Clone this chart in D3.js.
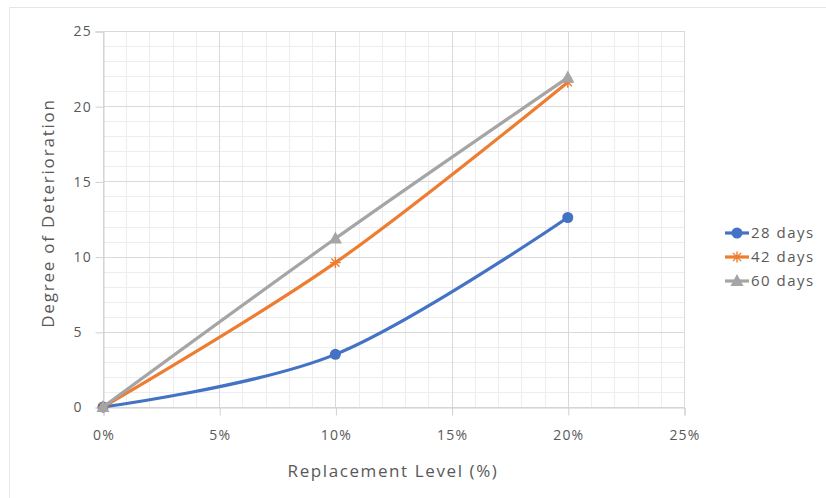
<!DOCTYPE html>
<html>
<head>
<meta charset="utf-8">
<script src="https://cdn.jsdelivr.net/npm/d3@7/dist/d3.min.js"></script>
<style>
  html, body { margin: 0; padding: 0; background: #fff; }
  svg { display: block; font-family: "Open Sans", "Noto Sans", sans-serif; }
</style>
</head>
<body>
<svg id="chart" width="826" height="498"></svg>
<script>
// Replacement level (%) on the x axis
const levels = [0, 10, 20];
// Degree of deterioration per curing age
const days28 = [0, 3.5, 12.6];
const days42 = [0, 9.6, 21.6];
const days60 = [0, 11.2, 21.9];
const seriesNames = ["28 days", "42 days", "60 days"];
const seriesColors = ["#4472C4", "#ED7D31", "#A5A5A5"];
const seriesMarkers = ["circle", "asterisk", "triangle"];
const xTicks = [0, 5, 10, 15, 20, 25];
const yTicks = [0, 5, 10, 15, 20, 25];

const series = [days28, days42, days60].map((vals, i) => ({
  name: seriesNames[i], color: seriesColors[i], marker: seriesMarkers[i],
  points: levels.map((x, j) => ({ x, y: vals[j] }))
}));

const svg = d3.select("#chart");
const textColor = "#595959";

// outer chart frame
svg.append("path")
  .attr("d", "M9.5,498 V7.5 H826")
  .attr("fill", "none").attr("stroke", "#e6e6e6").attr("stroke-width", 1);

const x = d3.scaleLinear().domain([0, 25]).range([103, 684]);
const y = d3.scaleLinear().domain([0, 25]).range([407, 31]);

// minor grid (every 1 unit)
const g = svg.append("g");
const minor = d3.range(0, 26, 1).filter(v => v % 5 !== 0);
g.selectAll("line.minx").data(minor).join("line")
  .attr("x1", d => Math.round(x(d)) + 0.5).attr("x2", d => Math.round(x(d)) + 0.5)
  .attr("y1", y(25)).attr("y2", y(0)).attr("stroke", "#ededed");
g.selectAll("line.miny").data(minor).join("line")
  .attr("y1", d => Math.round(y(d)) + 0.5).attr("y2", d => Math.round(y(d)) + 0.5)
  .attr("x1", x(0)).attr("x2", x(25)).attr("stroke", "#ededed");
// major grid
g.selectAll("line.majx").data(xTicks).join("line")
  .attr("x1", d => Math.round(x(d)) + 0.5).attr("x2", d => Math.round(x(d)) + 0.5)
  .attr("y1", y(25)).attr("y2", y(0)).attr("stroke", "#d9d9d9");
g.selectAll("line.majy").data(yTicks).join("line")
  .attr("y1", d => Math.round(y(d)) + 0.5).attr("y2", d => Math.round(y(d)) + 0.5)
  .attr("x1", x(0)).attr("x2", x(25)).attr("stroke", "#d9d9d9");

// axes
const xAxis = svg.append("g").attr("transform", `translate(0.5,${Math.round(y(0)) + 0.5})`)
  .call(d3.axisBottom(x).tickValues(xTicks).tickFormat(d => d + "%").tickSize(8).tickPadding(15));
const yAxis = svg.append("g").attr("transform", `translate(${Math.round(x(0)) + 0.5},0.5)`)
  .call(d3.axisLeft(y).tickValues(yTicks).tickSize(8));
[xAxis, yAxis].forEach(a => {
  a.select(".domain").attr("stroke", "#d0d0d0");
  a.selectAll(".tick line").attr("stroke", "#d0d0d0");
  a.selectAll(".tick text").attr("fill", textColor).attr("font-size", 14)
    .attr("letter-spacing", 1.2)
    .attr("font-family", "'Open Sans', 'Noto Sans', sans-serif");
});
// y labels sit in a column starting left of the tick marks
yAxis.selectAll(".tick text").attr("text-anchor", "start").attr("x", -30);

// axis titles
svg.append("text").attr("x", 393).attr("y", 477).attr("text-anchor", "middle")
  .attr("fill", textColor).attr("font-size", 17).attr("letter-spacing", 1.6)
  .text("Replacement Level (%)");
svg.append("text").attr("transform", "translate(54,213) rotate(-90)").attr("text-anchor", "middle")
  .attr("fill", textColor).attr("font-size", 17).attr("letter-spacing", 1.8)
  .text("Degree of Deterioration");

// marker drawing helper
function drawMarker(sel, type, color) {
  if (type === "circle") {
    sel.append("circle").attr("r", 5.5).attr("fill", color);
  } else if (type === "triangle") {
    sel.append("path").attr("d", "M0,-7 L6.5,5 L-6.5,5 Z").attr("fill", color);
  } else {
    const r = 5.5;
    sel.append("path")
      .attr("d", `M${-r},0 H${r} M0,${-r} V${r} M${-r*0.75},${-r*0.75} L${r*0.75},${r*0.75} M${-r*0.75},${r*0.75} L${r*0.75},${-r*0.75}`)
      .attr("stroke", color).attr("stroke-width", 1.4).attr("fill", "none");
  }
}

const line = d3.line().x(d => x(d.x)).y(d => y(d.y)).curve(d3.curveCardinal.tension(0));

series.forEach(s => {
  svg.append("path").datum(s.points).attr("d", line)
    .attr("fill", "none").attr("stroke", s.color).attr("stroke-width", 3.2)
    .attr("stroke-linejoin", "round").attr("stroke-linecap", "round");
  s.points.forEach(p => {
    const m = svg.append("g").attr("transform", `translate(${x(p.x)},${y(p.y)})`);
    drawMarker(m, s.marker, s.color);
  });
});

// legend
const legend = svg.append("g");
series.forEach((s, i) => {
  const ly = 233 + i * 24;
  legend.append("line").attr("x1", 725).attr("x2", 749).attr("y1", ly).attr("y2", ly)
    .attr("stroke", s.color).attr("stroke-width", 3.2);
  drawMarker(legend.append("g").attr("transform", `translate(737,${ly})`), s.marker, s.color);
  legend.append("text").attr("x", 751).attr("y", ly).attr("dy", "0.35em")
    .attr("fill", textColor).attr("font-size", 15).attr("letter-spacing", 1.5).text(s.name);
});
</script>
</body>
</html>
